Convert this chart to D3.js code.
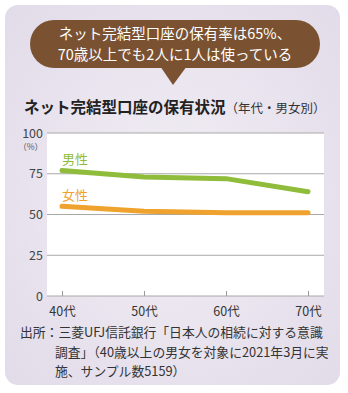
<!DOCTYPE html>
<html><head><meta charset="utf-8">
<script src="https://cdn.jsdelivr.net/npm/d3@7"></script>
<style>body{margin:0;background:#fff}svg{display:block}text{font-family:"Noto Sans CJK JP","Noto Sans",sans-serif}</style>
</head><body>
<script>
const categories = ["40代","50代","60代","70代"];
const maleValues = [77, 73, 72, 64];
const femaleValues = [55, 52, 51, 51];
const yTicks = [0, 25, 50, 75, 100];
const headline = ["ネット完結型口座の保有率は65%、","70歳以上でも2人に1人は使っている"];
const title = "ネット完結型口座の保有状況";
const subtitle = "（年代・男女別）";
const sourceLines = ["出所：三菱UFJ信託銀行「日本人の相続に対する意識","調査」（40歳以上の男女を対象に2021年3月に実","施、サンプル数5159）"];

const W = 348, H = 393;
const svg = d3.select("body").append("svg").attr("width", W).attr("height", H);
const defs = svg.append("defs");
const grad = defs.append("radialGradient").attr("id","bg").attr("cx","50%").attr("cy","50%").attr("r","70%");
grad.append("stop").attr("offset","0%").attr("stop-color","#f1eef4");
grad.append("stop").attr("offset","100%").attr("stop-color","#e2dbe9");

svg.append("rect").attr("x",5).attr("y",5).attr("width",335).attr("height",380).attr("rx",13).attr("fill","url(#bg)");

// callout
const brown = "#7a5232";
svg.append("rect").attr("x",30).attr("y",20).attr("width",290).attr("height",48).attr("rx",24).attr("fill",brown);
svg.append("path").attr("d","M160,66 L173,85 L187,66 Z").attr("fill",brown);
svg.append("text").attr("x",175).attr("y",0).attr("text-anchor","middle").attr("fill","#fff").attr("font-size",14.5)
  .selectAll("tspan").data(headline).join("tspan").attr("x",175).attr("y",(d,i)=>38.5+i*21).text(d=>d);

// title
const t = svg.append("text").attr("x",24).attr("y",113).attr("fill","#222");
t.append("tspan").attr("font-size",15.5).attr("font-weight","bold").text(title);
t.append("tspan").attr("font-size",12.5).attr("fill","#333").text(subtitle);

// plot
const x0 = 47, x1 = 324, yTop = 133, yBot = 296;
svg.append("rect").attr("x",x0).attr("y",yTop).attr("width",x1-x0).attr("height",yBot-yTop).attr("fill","#fff");
const x = d3.scalePoint().domain(categories).range([62, 308]);
const y = d3.scaleLinear().domain([0,100]).range([yBot, yTop]);

const g = svg.append("g");
g.selectAll("line.grid").data(yTicks).join("line").attr("class","grid")
  .attr("x1",x0).attr("x2",x1).attr("y1",d=>y(d)).attr("y2",d=>y(d))
  .attr("stroke","#a8a8a8").attr("stroke-width",1);
g.selectAll("text.yl").data(yTicks).join("text").attr("class","yl")
  .attr("x",43).attr("y",d=>y(d)+4.5).attr("text-anchor","end").attr("font-size",12.5).attr("fill","#444").text(d=>d);
svg.append("text").attr("x",43).attr("y",150).attr("text-anchor","end").attr("font-size",8.5).attr("fill","#555").text("（%）");

// x axis ticks
const xa = svg.append("g").attr("transform",`translate(0,${yBot})`)
  .call(d3.axisBottom(x).tickSize(-5).tickPadding(9));
xa.select(".domain").remove();
xa.selectAll(".tick line").attr("stroke","#999");
xa.selectAll(".tick text").attr("font-size",12.5).attr("fill","#333").attr("dy","0.9em")
  .style("font-family",'"Noto Sans CJK JP",sans-serif');

const line = d3.line().x((d,i)=>x(categories[i])).y(d=>y(d));
const maleC = "#8fbc3a", femaleC = "#f0a22e";
svg.append("path").datum(maleValues).attr("d",line).attr("fill","none").attr("stroke",maleC).attr("stroke-width",5).attr("stroke-linecap","round").attr("stroke-linejoin","round");
svg.append("path").datum(femaleValues).attr("d",line).attr("fill","none").attr("stroke",femaleC).attr("stroke-width",5).attr("stroke-linecap","round").attr("stroke-linejoin","round");
svg.append("text").attr("x",62).attr("y",164).attr("font-size",13).attr("fill",maleC).text("男性");
svg.append("text").attr("x",62).attr("y",200).attr("font-size",13).attr("fill",femaleC).text("女性");

// source
svg.append("text").attr("font-size",12.8).attr("fill","#333")
  .selectAll("tspan").data(sourceLines).join("tspan")
  .attr("x",(d,i)=>i===0?20:55).attr("y",(d,i)=>337+i*19.5).text(d=>d);
</script>
</body></html>
